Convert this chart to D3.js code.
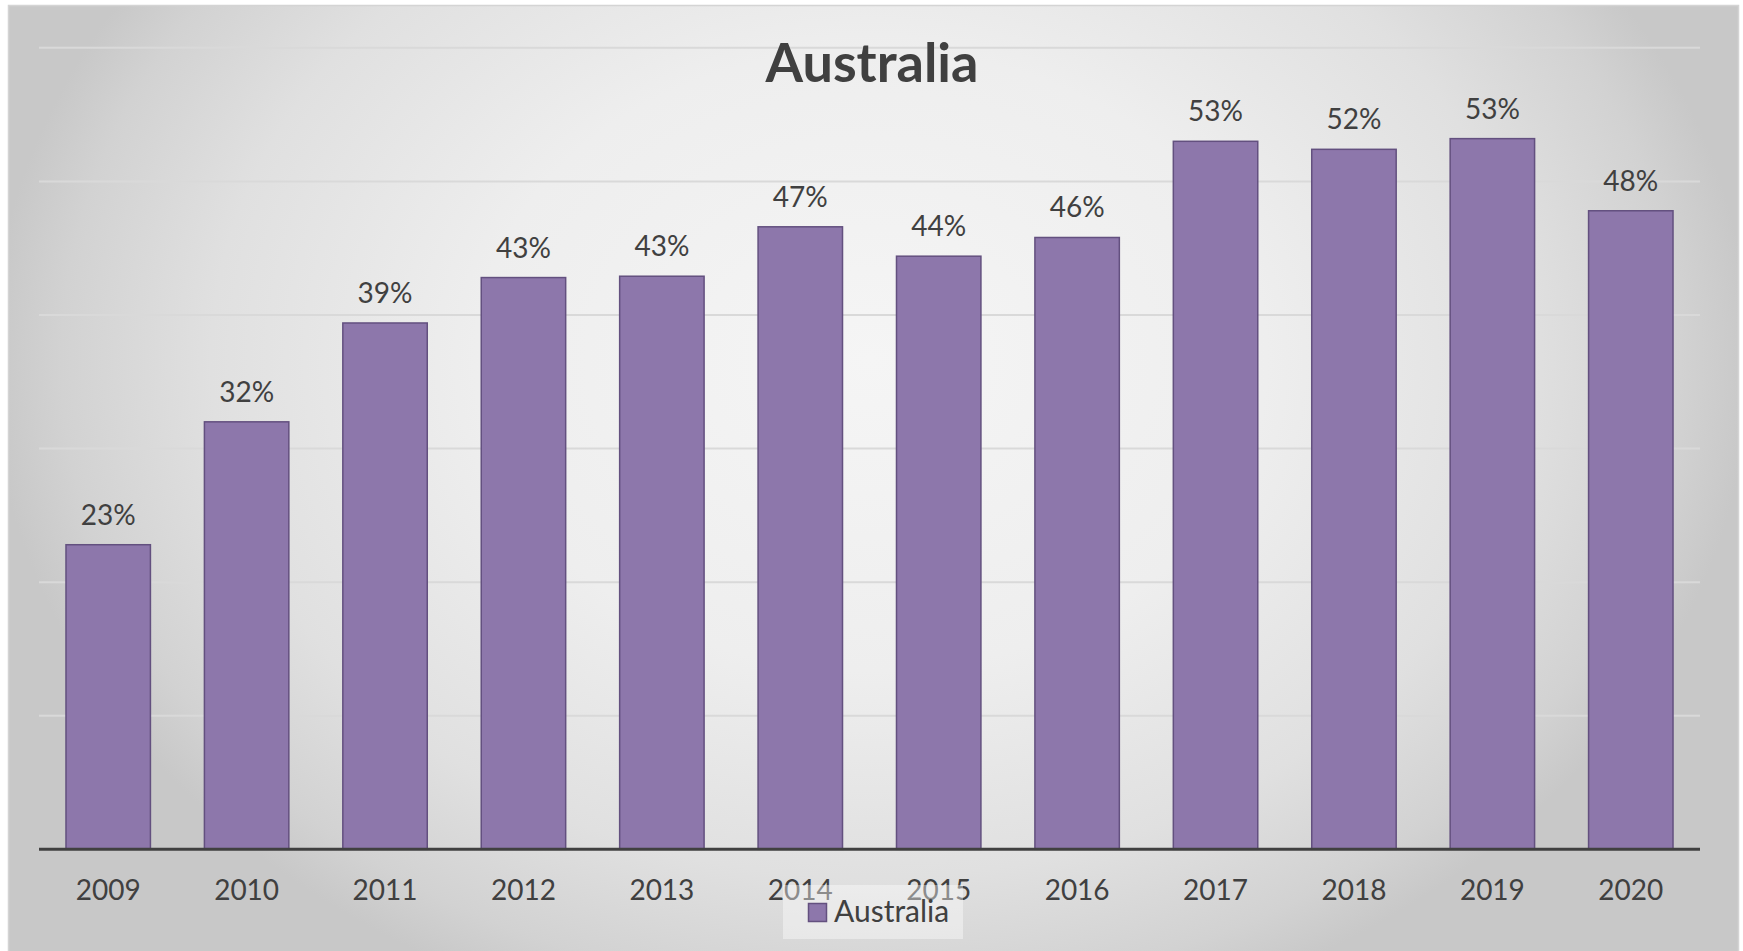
<!DOCTYPE html>
<html>
<head>
<meta charset="utf-8">
<script src="https://cdn.jsdelivr.net/npm/d3@7"></script>
<style>
  html, body { margin: 0; padding: 0; background: #ffffff; }
  svg { display: block; }
  text { font-family: Lato, "Open Sans", sans-serif; }
</style>
</head>
<body>
<svg id="chart" width="1743" height="951"></svg>
<script>
// Share of respondents per year, Australia
const years = ["2009", "2010", "2011", "2012", "2013", "2014", "2015", "2016", "2017", "2018", "2019", "2020"];
const values = [0.228, 0.320, 0.394, 0.428, 0.429, 0.466, 0.444, 0.458, 0.530, 0.524, 0.532, 0.478];
const gridTicks = [0.1, 0.2, 0.3, 0.4, 0.5, 0.6];
const seriesName = "Australia";
const chartTitle = "Australia";

const W = 1743, H = 951;
const plot = { left: 39, right: 1700, top: 47.8, bottom: 849.3 };

const svg = d3.select("#chart");
const defs = svg.append("defs");

// soft light centre fading to grey at the edges
const bg = defs.append("radialGradient")
  .attr("id", "bgGrad")
  .attr("gradientUnits", "userSpaceOnUse")
  .attr("cx", 0).attr("cy", 0).attr("r", 1)
  .attr("gradientTransform", "translate(871,360) scale(880,690)");
[[0, "#f5f5f5"], [0.45, "#eeeeee"], [0.75, "#e0e0e0"], [0.92, "#d2d2d2"], [1, "#c8c8c8"]]
  .forEach(([o, c]) => bg.append("stop").attr("offset", o).attr("stop-color", c));

svg.append("rect")
  .attr("x", 8.5).attr("y", 5.5)
  .attr("width", 1730).attr("height", H)
  .attr("fill", "url(#bgGrad)")
  .attr("stroke", "#d4d4d4").attr("stroke-width", 1.5);

const x = d3.scaleBand()
  .domain(years)
  .range([plot.left, plot.right])
  .paddingInner(0.39)
  .paddingOuter(0.195);

const y = d3.scaleLinear()
  .domain([0, 0.6])
  .range([plot.bottom, plot.top]);

// horizontal gridlines
svg.append("g")
  .selectAll("line")
  .data(gridTicks)
  .join("line")
  .attr("x1", plot.left).attr("x2", plot.right)
  .attr("y1", d => y(d)).attr("y2", d => y(d))
  .attr("stroke", "#d9d9d9")
  .attr("stroke-width", 2);

// title
svg.append("text")
  .attr("x", 872).attr("y", 82)
  .attr("text-anchor", "middle")
  .attr("font-size", 54)
  .attr("font-weight", 700)
  .attr("fill", "#404040")
  .text(chartTitle);

// bars
svg.append("g")
  .selectAll("rect")
  .data(years.map((yr, i) => ({ yr, v: values[i] })))
  .join("rect")
  .attr("x", d => x(d.yr))
  .attr("y", d => y(d.v))
  .attr("width", x.bandwidth())
  .attr("height", d => y(0) - y(d.v))
  .attr("fill", "#8d77ab")
  .attr("stroke", "#63507f")
  .attr("stroke-width", 1.5);

// value labels
const pct = d3.format(".0%");
svg.append("g")
  .selectAll("text")
  .data(years.map((yr, i) => ({ yr, v: values[i] })))
  .join("text")
  .attr("x", d => x(d.yr) + x.bandwidth() / 2)
  .attr("y", d => y(d.v) - 20)
  .attr("text-anchor", "middle")
  .attr("font-size", 28)
  .attr("fill", "#404040")
  .text(d => pct(d.v));

// category axis
const xAxis = svg.append("g")
  .attr("transform", `translate(0,${plot.bottom})`)
  .call(d3.axisBottom(x).tickSize(0).tickPadding(0));
xAxis.select(".domain").remove();
xAxis.selectAll("text")
  .attr("dy", 0)
  .attr("y", 50.5)
  .attr("font-size", 28)
  .attr("font-family", "Lato, 'Open Sans', sans-serif")
  .attr("fill", "#404040");

svg.append("line")
  .attr("x1", plot.left).attr("x2", plot.right)
  .attr("y1", plot.bottom).attr("y2", plot.bottom)
  .attr("stroke", "#404040")
  .attr("stroke-width", 3);

// legend
const legend = svg.append("g");
legend.append("rect")
  .attr("x", 783).attr("y", 885)
  .attr("width", 180).attr("height", 54)
  .attr("fill", "#ffffff").attr("fill-opacity", 0.4);
legend.append("rect")
  .attr("x", 808.5).attr("y", 903.5)
  .attr("width", 18).attr("height", 18)
  .attr("fill", "#8d77ab")
  .attr("stroke", "#63507f")
  .attr("stroke-width", 1.5);
legend.append("text")
  .attr("x", 834).attr("y", 922)
  .attr("font-size", 30)
  .attr("fill", "#404040")
  .text(seriesName);
</script>
</body>
</html>
